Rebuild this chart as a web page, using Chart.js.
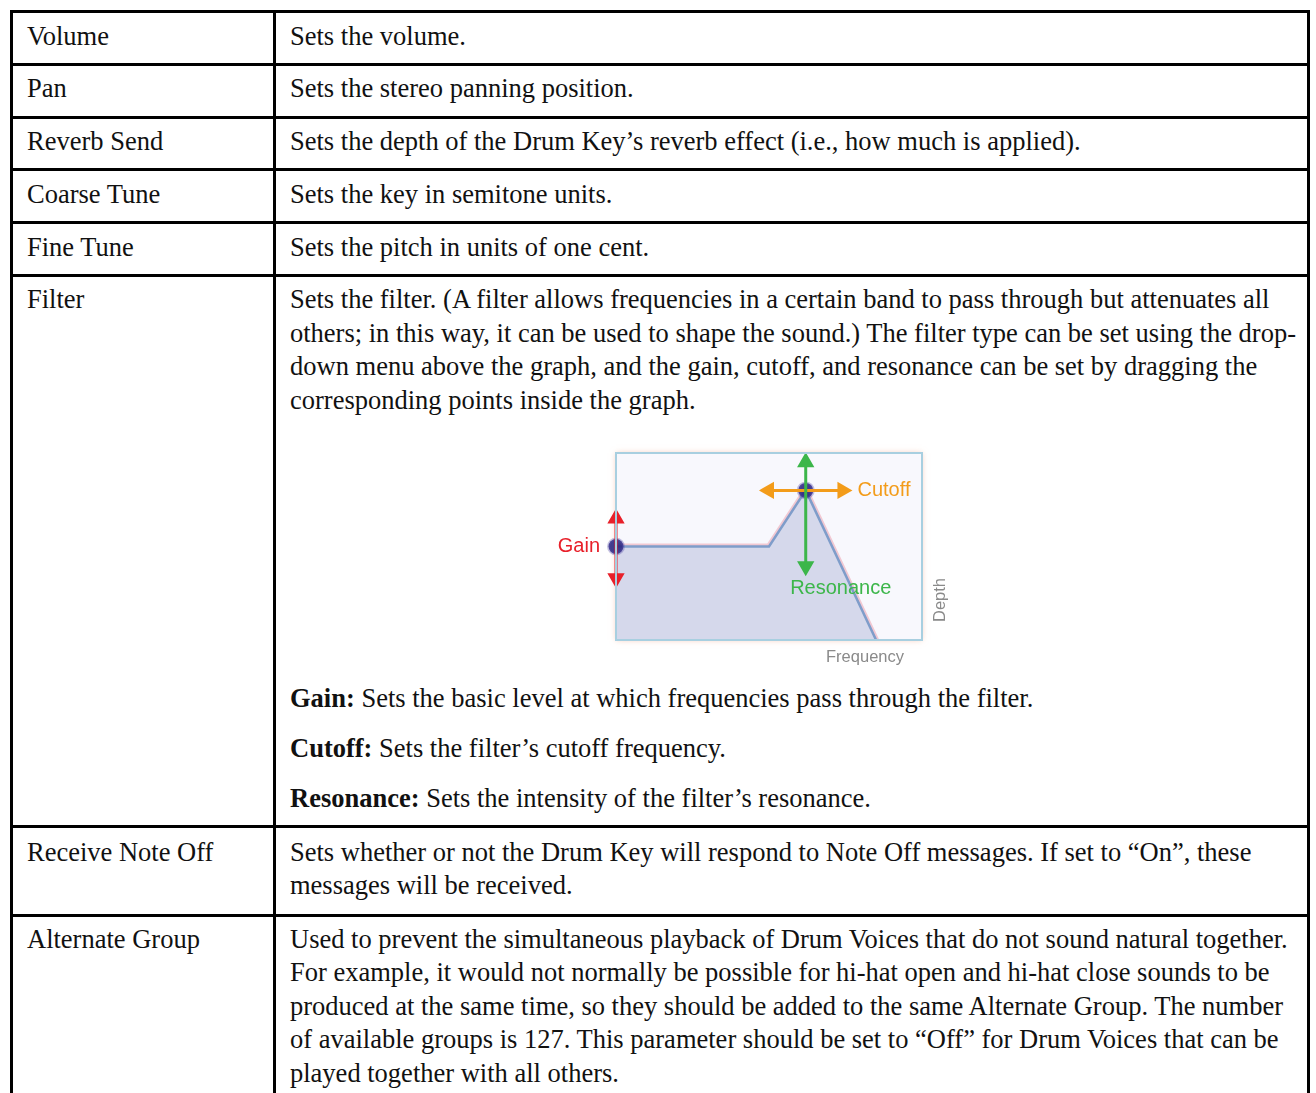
<!DOCTYPE html>
<html>
<head>
<meta charset="utf-8">
<script src="https://cdn.jsdelivr.net/npm/chart.js@4"></script>
<style>
  html, body { margin: 0; padding: 0; background: #fff; }
  body { width: 1316px; height: 1093px; overflow: hidden; position: relative; }
  table {
    position: absolute; left: 10px; top: 10px; width: 1300px;
    border-collapse: collapse;
    font-family: "Liberation Serif", "Times New Roman", serif;
    font-size: 26.5px; line-height: 33.4px; color: #111;
  }
  td { border: 3px solid #000; vertical-align: top; padding: 6.5px 6px 9.9px 14px; }
  td.k { width: 240px; }
  td p { margin: 0; }
  td p + p { margin-top: 16.5px; }
  tr.two td { padding-top: 7.5px; padding-bottom: 11px; }
  .chartbox { position: relative; width: 440px; height: 240px; margin: 15px 0 10px 250px; }
</style>
</head>
<body>
<table>
  <tr><td class="k">Volume</td><td>Sets the volume.</td></tr>
  <tr><td class="k">Pan</td><td>Sets the stereo panning position.</td></tr>
  <tr><td class="k">Reverb Send</td><td>Sets the depth of the Drum Key’s reverb effect (i.e., how much is applied).</td></tr>
  <tr><td class="k">Coarse Tune</td><td>Sets the key in semitone units.</td></tr>
  <tr><td class="k">Fine Tune</td><td>Sets the pitch in units of one cent.</td></tr>
  <tr><td class="k">Filter</td><td>
    <p>Sets the filter. (A filter allows frequencies in a certain band to pass through but attenuates all others; in this way, it can be used to shape the sound.) The filter type can be set using the drop-down menu above the graph, and the gain, cutoff, and resonance can be set by dragging the corresponding points inside the graph.</p>
    <div class="chartbox"><canvas id="chart"></canvas></div>
    <p><b>Gain:</b> Sets the basic level at which frequencies pass through the filter.</p>
    <p><b>Cutoff:</b> Sets the filter’s cutoff frequency.</p>
    <p><b>Resonance:</b> Sets the intensity of the filter’s resonance.</p>
  </td></tr>
  <tr class="two"><td class="k">Receive Note Off</td><td>Sets whether or not the Drum Key will respond to Note Off messages. If set to “On”, these messages will be received.</td></tr>
  <tr><td class="k">Alternate Group</td><td>Used to prevent the simultaneous playback of Drum Voices that do not sound natural together. For example, it would not normally be possible for hi-hat open and hi-hat close sounds to be produced at the same time, so they should be added to the same Alternate Group. The number of available groups is 127. This parameter should be set to “Off” for Drum Voices that can be played together with all others.</td></tr>
</table>

<script>
// filter curve (frequency 0-100, depth 0-100)
const frequency = [0, 50, 62, 85]
const depth = [50, 50, 80, 0]

// handle arrows
const gainArrow = [33, 65]        // depth range at the gain point
const cutoffArrow = [50, 74]      // frequency range at the peak
const resonanceArrow = [39.5, 95] // depth range at the peak

const curve = frequency.map(function (f, i) {
    return { x: f, y: depth[i] }
})

const frame = {
    id: 'frame',
    beforeDatasetsDraw(chart) {
        const { ctx, chartArea: a } = chart
        ctx.save()
        ctx.shadowColor = 'rgba(240, 160, 130, 0.55)'
        ctx.shadowBlur = 6
        ctx.fillStyle = '#f8f8fd'
        ctx.fillRect(a.left, a.top, a.width, a.height)
        ctx.restore()
    },
    afterDatasetsDraw(chart) {
        const { ctx, chartArea: a, scales } = chart
        const x = scales.x, y = scales.y
        ctx.save()
        ctx.strokeStyle = '#a8cfe0'
        ctx.lineWidth = 2
        ctx.strokeRect(a.left, a.top, a.width, a.height)

        ctx.font = '20px "Liberation Sans", Arial, sans-serif'
        ctx.textBaseline = 'middle'
        ctx.fillStyle = '#e8202a'
        ctx.textAlign = 'right'
        ctx.fillText('Gain', x.getPixelForValue(frequency[0]) - 16, y.getPixelForValue(depth[0]))
        ctx.fillStyle = '#f39c1a'
        ctx.textAlign = 'left'
        ctx.fillText('Cutoff', x.getPixelForValue(cutoffArrow[1]) + 15, y.getPixelForValue(depth[2]))
        ctx.fillStyle = '#3cb64a'
        ctx.textAlign = 'center'
        ctx.fillText('Resonance', x.getPixelForValue(frequency[2]) + 35, y.getPixelForValue(resonanceArrow[0]) + 22)

        ctx.font = '16.5px "Liberation Sans", Arial, sans-serif'
        ctx.fillStyle = '#8a8a8a'
        ctx.fillText('Frequency', a.right - 57, a.bottom + 17)
        ctx.translate(a.right + 18, a.bottom - 40)
        ctx.rotate(-Math.PI / 2)
        ctx.fillText('Depth', 0, 0)
        ctx.restore()
    }
}

new Chart(document.getElementById('chart'), {
    type: 'line',
    data: {
        datasets: [{
            // gain arrow
            data: gainArrow.map(function (v) { return { x: frequency[0], y: v } }),
            borderColor: '#e8202a',
            backgroundColor: '#e8202a',
            borderWidth: 3,
            pointStyle: 'triangle',
            pointRadius: 7,
            pointRotation: [180, 0],
            clip: false,
            order: 1
        }, {
            // cutoff arrow
            data: cutoffArrow.map(function (v) { return { x: v, y: depth[2] } }),
            borderColor: '#f39c1a',
            backgroundColor: '#f39c1a',
            borderWidth: 3,
            pointStyle: 'triangle',
            pointRadius: 7,
            pointRotation: [270, 90],
            clip: false,
            order: 1
        }, {
            // resonance arrow
            data: resonanceArrow.map(function (v) { return { x: frequency[2], y: v } }),
            borderColor: '#3cb64a',
            backgroundColor: '#3cb64a',
            borderWidth: 3,
            pointStyle: 'triangle',
            pointRadius: 7,
            pointRotation: [180, 0],
            clip: false,
            order: 0
        }, {
            // handles
            data: [curve[0], curve[2]],
            showLine: false,
            pointRadius: 7.5,
            pointBackgroundColor: 'rgba(45, 40, 130, 0.9)',
            pointBorderColor: 'rgba(90, 80, 170, 0.35)',
            pointBorderWidth: 3,
            clip: false,
            order: 2
        }, {
            // filter curve
            data: curve,
            borderColor: '#7f9dca',
            borderWidth: 2.5,
            backgroundColor: '#d5d8eb',
            fill: 'origin',
            pointRadius: 0,
            tension: 0,
            order: 3
        }, {
            // soft pink fringe of the curve
            data: curve,
            borderColor: 'rgba(235, 160, 175, 0.55)',
            borderWidth: 6,
            pointRadius: 0,
            fill: false,
            order: 4
        }]
    },
    options: {
        responsive: true,
        maintainAspectRatio: false,
        animation: false,
        layout: { padding: { left: 76, right: 58, top: 21, bottom: 32 } },
        plugins: {
            legend: { display: false },
            tooltip: { enabled: false }
        },
        scales: {
            x: { type: 'linear', min: 0, max: 100, display: false },
            y: { type: 'linear', min: 0, max: 100, display: false }
        }
    },
    plugins: [frame]
})
</script>
</body>
</html>
